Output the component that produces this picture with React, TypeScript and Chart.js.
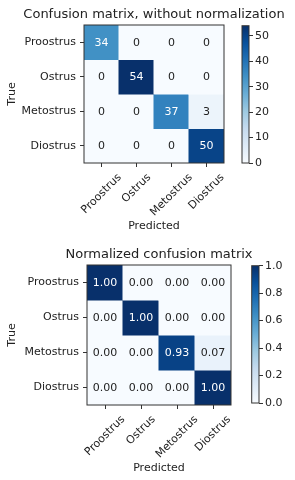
import React, { useEffect, useRef } from 'react';
import { Chart, registerables } from 'chart.js';

Chart.register(...registerables);

// ---------------- data ----------------
const CLASSES = ['Proostrus', 'Ostrus', 'Metostrus', 'Diostrus'];
const COUNT_ROWS = [
  [34, 0, 0, 0],
  [0, 54, 0, 0],
  [0, 0, 37, 3],
  [0, 0, 0, 50],
];
const NORM_ROWS = [
  [1.0, 0.0, 0.0, 0.0],
  [0.0, 1.0, 0.0, 0.0],
  [0.0, 0.0, 0.93, 0.07],
  [0.0, 0.0, 0.0, 1.0],
];
const COUNT_MAX = 54;
const NORM_MAX = 1;
const COUNT_TICKS = [0, 10, 20, 30, 40, 50];
const NORM_TICKS = [0, 0.2, 0.4, 0.6, 0.8, 1.0];
const TITLE_COUNTS = 'Confusion matrix, without normalization';
const TITLE_NORM = 'Normalized confusion matrix';
const X_TITLE = 'Predicted';
const Y_TITLE = 'True';

// ---------------- style ----------------
const FONT = 'DejaVu Sans';
const TEXT = '#222222';
const LINE = '#333333';
const BLUES = ['#f7fbff', '#deebf7', '#c6dbef', '#9ecae1', '#6baed6', '#4292c6', '#2171b5', '#08519c', '#08306b'];

Chart.defaults.font.family = FONT;

function hex(c: string) {
  return [parseInt(c.slice(1, 3), 16), parseInt(c.slice(3, 5), 16), parseInt(c.slice(5, 7), 16)];
}
function blues(t: number) {
  const x = Math.max(0, Math.min(1, t)) * (BLUES.length - 1);
  const i = Math.min(BLUES.length - 2, Math.floor(x));
  const f = x - i;
  const a = hex(BLUES[i]);
  const b = hex(BLUES[i + 1]);
  const m = a.map((v, k) => Math.round(v + (b[k] - v) * f));
  return `rgb(${m[0]},${m[1]},${m[2]})`;
}

const framePlugin = {
  id: 'frame',
  afterDatasetsDraw(chart: any) {
    const { ctx, chartArea: a } = chart;
    ctx.save();
    ctx.strokeStyle = LINE;
    ctx.lineWidth = 1;
    ctx.strokeRect(a.left, a.top, a.right - a.left, a.bottom - a.top);
    ctx.restore();
  },
};

type MatrixProps = {
  rows: number[][];
  vmax: number;
  digits: number;
  title: string;
  width: number;
  axisW: number;
  chartTop: number;
  chartBottom: number;
  xTitlePad: number;
};

function Matrix(p: MatrixProps) {
  const ref = useRef<HTMLCanvasElement>(null);
  useEffect(() => {
    const height = 240;
    const cellText = {
      id: 'cellText',
      afterDatasetsDraw(chart: any) {
        const { ctx } = chart;
        ctx.save();
        ctx.font = `11px "${FONT}"`;
        ctx.textAlign = 'center';
        ctx.textBaseline = 'middle';
        p.rows.forEach((row, r) => {
          const meta = chart.getDatasetMeta(r);
          row.forEach((v, c) => {
            const el = meta.data[c];
            const pt = el.getCenterPoint();
            ctx.fillStyle = v > p.vmax / 2 ? '#ffffff' : TEXT;
            ctx.fillText(v.toFixed(p.digits), pt.x, pt.y + 0.5);
          });
        });
        ctx.restore();
      },
    };
    const xLabels = {
      id: 'xLabels',
      afterDraw(chart: any) {
        const { ctx, chartArea } = chart;
        const xs = chart.scales.x;
        ctx.save();
        ctx.font = `11px "${FONT}"`;
        ctx.fillStyle = TEXT;
        ctx.textAlign = 'center';
        ctx.textBaseline = 'middle';
        CLASSES.forEach((lab, i) => {
          const x = xs.getPixelForTick(i);
          const w = ctx.measureText(lab).width;
          const h = 13;
          const half = (w + h) / (2 * Math.SQRT2);
          const cy = chartArea.bottom + 8 + half;
          ctx.save();
          ctx.translate(x, cy);
          ctx.rotate(-Math.PI / 4);
          ctx.fillText(lab, 0, 0);
          ctx.restore();
        });
        ctx.restore();
      },
    };
    const datasets = p.rows.map((row, r) => ({
      label: CLASSES[r],
      data: row.map(() => [r - 0.5, r + 0.5]),
      backgroundColor: row.map((v) => blues(v / p.vmax)),
      borderWidth: 0,
      barPercentage: 1,
      categoryPercentage: 1,
      grouped: false,
      inflateAmount: 0.5,
    }));
    const tickGrid = {
      display: true,
      offset: false,
      drawOnChartArea: false,
      drawTicks: true,
      tickLength: 4,
      color: LINE,
      lineWidth: 1,
    };
    const chart = new Chart(ref.current as HTMLCanvasElement, {
      type: 'bar',
      data: { labels: CLASSES, datasets: datasets as any },
      options: {
        responsive: false,
        animation: false,
        devicePixelRatio: 1,
        layout: { padding: 0 },
        plugins: {
          legend: { display: false },
          tooltip: { enabled: false },
          title: {
            display: true,
            text: p.title,
            color: TEXT,
            font: { family: FONT, size: 13, weight: 'normal' as any, lineHeight: 1.2 },
            padding: { top: 6.7, bottom: p.chartTop - 6.7 - 15.6 },
          },
        },
        scales: {
          x: {
            type: 'category',
            position: 'bottom',
            offset: true,
            grid: tickGrid as any,
            border: { display: false },
            ticks: { display: false },
            title: {
              display: true,
              text: X_TITLE,
              color: TEXT,
              font: { family: FONT, size: 11, lineHeight: 1.2 },
              padding: { top: p.xTitlePad, bottom: p.xTitlePad },
            },
            afterFit: (s: any) => {
              s.height = height - p.chartBottom;
            },
          },
          y: {
            type: 'linear',
            position: 'left',
            min: -0.5,
            max: 3.5,
            reverse: true,
            afterBuildTicks: (s: any) => {
              s.ticks = CLASSES.map((_, i) => ({ value: i }));
            },
            ticks: {
              callback: (v: any) => CLASSES[v as number],
              color: TEXT,
              font: { family: FONT, size: 11 },
              padding: 4,
              autoSkip: false,
            },
            grid: tickGrid as any,
            border: { display: false },
            title: {
              display: true,
              text: Y_TITLE,
              color: TEXT,
              font: { family: FONT, size: 11, lineHeight: 1.2 },
              padding: { top: 5.4, bottom: 0 },
            },
            afterFit: (s: any) => {
              s.width = p.axisW;
            },
          },
          pad: {
            type: 'linear',
            position: 'right',
            display: true,
            grid: { display: false },
            border: { display: false },
            ticks: { display: false },
            afterFit: (s: any) => {
              s.width = p.axisW;
            },
          },
        } as any,
      },
      plugins: [cellText, framePlugin, xLabels],
    });
    return () => chart.destroy();
  }, []);
  return (
    <canvas
      ref={ref}
      width={p.width}
      height={240}
      style={{ position: 'absolute', left: 0, top: 0, width: p.width, height: 240, display: 'block' }}
    />
  );
}

type BarProps = {
  vmax: number;
  ticks: number[];
  digits: number;
  left: number;
  width: number;
  padL: number;
  axisW: number;
  top: number;
  bottom: number;
};

function ColorBar(p: BarProps) {
  const ref = useRef<HTMLCanvasElement>(null);
  useEffect(() => {
    const gradient = (c: any) => {
      const { ctx, chartArea } = c.chart;
      if (!chartArea) return BLUES[0];
      const g = ctx.createLinearGradient(0, chartArea.bottom, 0, chartArea.top);
      BLUES.forEach((col, i) => g.addColorStop(i / (BLUES.length - 1), col));
      return g;
    };
    const chart = new Chart(ref.current as HTMLCanvasElement, {
      type: 'bar',
      data: {
        labels: [''],
        datasets: [
          {
            data: [[0, p.vmax]] as any,
            backgroundColor: gradient as any,
            borderWidth: 0,
            barPercentage: 1,
            categoryPercentage: 1,
            inflateAmount: 0,
          } as any,
        ],
      },
      options: {
        responsive: false,
        animation: false,
        devicePixelRatio: 1,
        layout: { padding: { left: p.padL, right: 0, top: p.top, bottom: 240 - p.bottom } },
        plugins: { legend: { display: false }, tooltip: { enabled: false } },
        scales: {
          x: { display: false },
          y: {
            type: 'linear',
            position: 'right',
            min: 0,
            max: p.vmax,
            afterBuildTicks: (s: any) => {
              s.ticks = p.ticks.map((v) => ({ value: v }));
            },
            ticks: {
              callback: (v: any) => Number(v).toFixed(p.digits),
              color: TEXT,
              font: { family: FONT, size: 11 },
              padding: 2,
              autoSkip: false,
            },
            grid: { drawOnChartArea: false, drawTicks: true, tickLength: 4, color: LINE },
            border: { display: false },
            afterFit: (s: any) => {
              s.width = p.axisW;
            },
          },
        } as any,
      },
      plugins: [framePlugin],
    });
    return () => chart.destroy();
  }, []);
  return (
    <canvas
      ref={ref}
      width={p.width}
      height={240}
      style={{ position: 'absolute', left: p.left, top: 0, width: p.width, height: 240, display: 'block' }}
    />
  );
}

export default function App() {
  return (
    <div
      style={{
        position: 'absolute',
        left: 0,
        top: 0,
        width: 295,
        height: 480,
        overflow: 'hidden',
        background: '#ffffff',
      }}
    >
      <div style={{ position: 'absolute', left: 0, top: 0, width: 295, height: 240 }}>
        <Matrix
          rows={COUNT_ROWS}
          vmax={COUNT_MAX}
          digits={0}
          title={TITLE_COUNTS}
          width={308}
          axisW={84}
          chartTop={25}
          chartBottom={163}
          xTitlePad={6.9}
        />
        <ColorBar vmax={COUNT_MAX} ticks={COUNT_TICKS} digits={0} left={230} width={65} padL={12} axisW={46} top={25.7} bottom={163} />
      </div>
      <div style={{ position: 'absolute', left: 0, top: 240, width: 295, height: 240 }}>
        <Matrix
          rows={NORM_ROWS}
          vmax={NORM_MAX}
          digits={2}
          title={TITLE_NORM}
          width={318}
          axisW={87}
          chartTop={25}
          chartBottom={165}
          xTitlePad={5.4}
        />
        <ColorBar vmax={NORM_MAX} ticks={NORM_TICKS} digits={1} left={240} width={55} padL={11.7} axisW={36} top={25.7} bottom={163} />
      </div>
    </div>
  );
}
